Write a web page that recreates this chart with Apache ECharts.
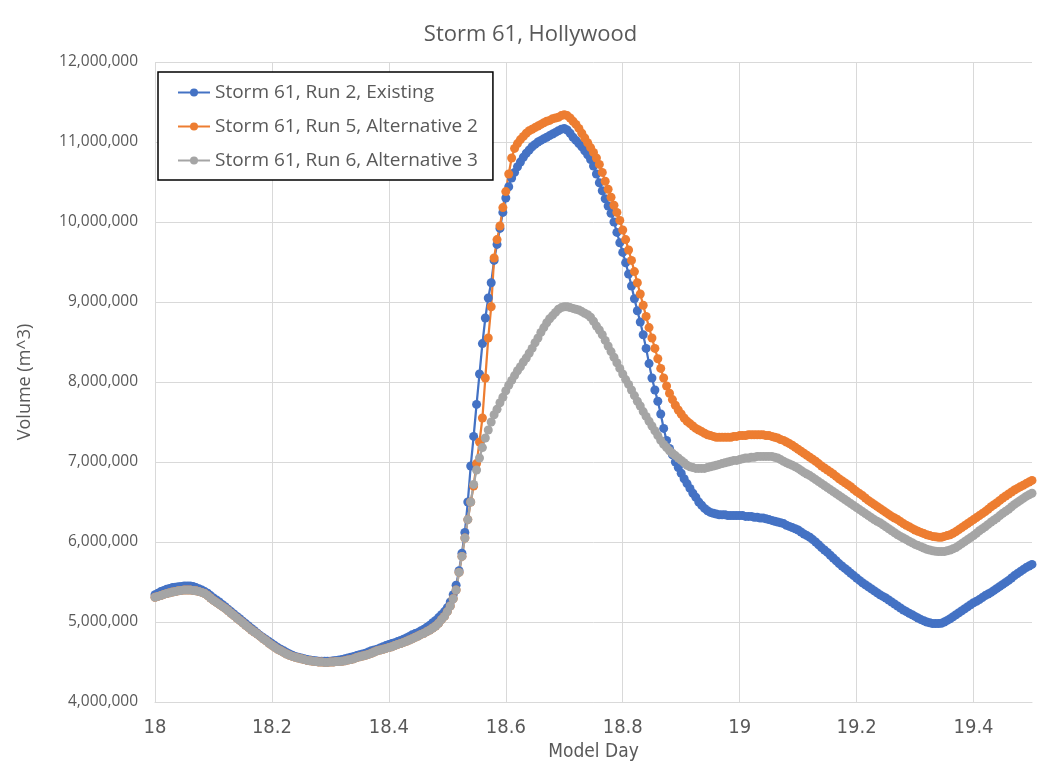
<!DOCTYPE html>
<html>
<head>
<meta charset="utf-8">
<script src="https://cdn.jsdelivr.net/npm/echarts@6/dist/echarts.min.js"></script>
<style>
html,body{margin:0;padding:0;background:#fff;}
#chart{width:1061px;height:771px;}
</style>
</head>
<body>
<div id="chart"></div>
<script>
// Model day sampling: first day and step between samples
const START_DAY = 18;
const STEP_DAY = 0.005;
const xTickMin = 18, xTickMax = 19.5, xTickStep = 0.2;
const yTickMin = 4000000, yTickMax = 12000000, yTickStep = 1000000;

const seriesNames = ["Storm 61, Run 2, Existing", "Storm 61, Run 5, Alternative 2", "Storm 61, Run 6, Alternative 3"];

// Volume (m^3) every 0.005 day from 18.000 to 19.500
const existing = [
5340000,5360000,5380000,5395000,5410000,5420000,5430000,5435000,5440000,5445000,
5450000,5450000,5450000,5445000,5430000,5415000,5400000,5380000,5360000,5330000,
5300000,5275000,5250000,5220000,5190000,5160000,5130000,5100000,5070000,5040000,
5010000,4980000,4950000,4920000,4890000,4860000,4830000,4805000,4780000,4755000,
4730000,4705000,4680000,4660000,4640000,4620000,4600000,4585000,4570000,4560000,
4550000,4540000,4530000,4525000,4520000,4515000,4510000,4510000,4510000,4510000,
4510000,4515000,4520000,4525000,4530000,4540000,4550000,4560000,4570000,4580000,
4590000,4600000,4610000,4625000,4640000,4650000,4660000,4675000,4690000,4705000,
4720000,4730000,4740000,4755000,4770000,4785000,4800000,4820000,4840000,4855000,
4870000,4890000,4910000,4935000,4960000,4990000,5020000,5055000,5090000,5130000,
5180000,5250000,5340000,5460000,5640000,5860000,6120000,6500000,6950000,7320000,
7720000,8100000,8480000,8800000,9050000,9240000,9520000,9720000,9920000,10120000,
10300000,10440000,10550000,10620000,10690000,10750000,10810000,10860000,10900000,10940000,
10970000,11000000,11020000,11040000,11060000,11080000,11100000,11120000,11140000,11160000,
11170000,11150000,11110000,11060000,11020000,10980000,10940000,10890000,10840000,10780000,
10700000,10600000,10490000,10390000,10290000,10200000,10110000,10000000,9870000,9740000,
9620000,9490000,9350000,9200000,9040000,8890000,8750000,8590000,8420000,8230000,
8050000,7900000,7760000,7600000,7420000,7270000,7170000,7090000,7000000,6930000,
6860000,6790000,6730000,6670000,6610000,6560000,6500000,6460000,6420000,6390000,
6370000,6360000,6350000,6340000,6340000,6340000,6330000,6330000,6330000,6330000,
6330000,6330000,6320000,6320000,6320000,6310000,6310000,6300000,6300000,6290000,
6280000,6270000,6260000,6250000,6240000,6230000,6210000,6195000,6180000,6165000,
6150000,6125000,6100000,6080000,6060000,6030000,6000000,5965000,5930000,5900000,
5870000,5835000,5800000,5765000,5730000,5700000,5670000,5640000,5610000,5580000,
5550000,5520000,5490000,5465000,5440000,5415000,5390000,5365000,5340000,5320000,
5300000,5275000,5250000,5225000,5200000,5175000,5150000,5130000,5110000,5090000,
5070000,5050000,5030000,5015000,5000000,4990000,4980000,4980000,4980000,4985000,
5000000,5020000,5040000,5065000,5090000,5115000,5140000,5165000,5190000,5215000,
5240000,5260000,5280000,5305000,5330000,5350000,5370000,5395000,5420000,5445000,
5470000,5495000,5520000,5550000,5580000,5605000,5630000,5655000,5680000,5700000,
5720000
];

const alternative2 = [
5310000,5320000,5330000,5345000,5355000,5365000,5375000,5380000,5390000,5395000,
5400000,5400000,5400000,5395000,5390000,5380000,5370000,5355000,5330000,5300000,
5270000,5245000,5220000,5195000,5170000,5140000,5110000,5080000,5050000,5020000,
4990000,4960000,4930000,4900000,4875000,4850000,4820000,4790000,4765000,4735000,
4710000,4685000,4660000,4640000,4620000,4600000,4585000,4570000,4560000,4550000,
4540000,4530000,4520000,4515000,4510000,4505000,4500000,4500000,4495000,4495000,
4500000,4500000,4505000,4505000,4510000,4515000,4525000,4530000,4540000,4555000,
4565000,4575000,4585000,4595000,4610000,4625000,4640000,4650000,4660000,4670000,
4680000,4690000,4705000,4720000,4730000,4745000,4760000,4775000,4790000,4810000,
4825000,4845000,4860000,4880000,4900000,4925000,4950000,4985000,5030000,5070000,
5130000,5200000,5290000,5400000,5620000,5820000,6050000,6280000,6500000,6700000,
6980000,7250000,7550000,8050000,8550000,8940000,9550000,9780000,9950000,10180000,
10380000,10600000,10800000,10920000,10980000,11030000,11070000,11110000,11140000,11160000,
11180000,11200000,11220000,11240000,11260000,11270000,11290000,11300000,11310000,11330000,
11340000,11330000,11300000,11260000,11220000,11170000,11110000,11050000,10990000,10930000,
10870000,10800000,10720000,10620000,10510000,10410000,10310000,10210000,10120000,10020000,
9900000,9780000,9650000,9520000,9380000,9240000,9100000,8960000,8820000,8680000,
8550000,8420000,8290000,8170000,8050000,7950000,7860000,7780000,7710000,7650000,
7600000,7550000,7510000,7480000,7450000,7420000,7400000,7380000,7360000,7340000,
7330000,7320000,7310000,7310000,7310000,7310000,7310000,7310000,7320000,7320000,
7330000,7330000,7330000,7340000,7340000,7340000,7340000,7340000,7340000,7330000,
7330000,7320000,7310000,7300000,7280000,7270000,7250000,7230000,7210000,7185000,
7160000,7135000,7110000,7085000,7060000,7035000,7010000,6980000,6950000,6925000,
6900000,6875000,6850000,6820000,6790000,6765000,6740000,6715000,6690000,6660000,
6630000,6605000,6580000,6550000,6520000,6495000,6470000,6445000,6420000,6395000,
6370000,6345000,6320000,6300000,6280000,6255000,6230000,6210000,6190000,6170000,
6150000,6135000,6120000,6105000,6090000,6080000,6070000,6065000,6060000,6060000,
6070000,6080000,6090000,6110000,6130000,6155000,6180000,6205000,6230000,6255000,
6280000,6305000,6330000,6355000,6380000,6410000,6440000,6465000,6490000,6520000,
6550000,6575000,6600000,6625000,6650000,6670000,6690000,6710000,6730000,6750000,
6770000
];

const alternative3 = [
5310000,5320000,5330000,5345000,5355000,5365000,5375000,5380000,5390000,5395000,
5400000,5400000,5400000,5395000,5390000,5380000,5370000,5355000,5330000,5300000,
5270000,5245000,5220000,5195000,5170000,5140000,5110000,5080000,5050000,5020000,
4990000,4960000,4930000,4900000,4875000,4850000,4820000,4790000,4765000,4735000,
4710000,4685000,4660000,4640000,4620000,4600000,4585000,4570000,4560000,4550000,
4540000,4530000,4520000,4515000,4510000,4505000,4500000,4500000,4495000,4495000,
4500000,4500000,4505000,4505000,4510000,4515000,4525000,4530000,4540000,4555000,
4565000,4575000,4585000,4595000,4610000,4625000,4640000,4650000,4660000,4670000,
4680000,4690000,4705000,4720000,4730000,4745000,4760000,4775000,4790000,4810000,
4825000,4845000,4860000,4880000,4900000,4925000,4950000,4985000,5030000,5070000,
5130000,5200000,5290000,5400000,5620000,5820000,6050000,6280000,6500000,6720000,
6900000,7050000,7180000,7300000,7400000,7500000,7590000,7660000,7740000,7810000,
7890000,7960000,8020000,8080000,8140000,8190000,8250000,8300000,8360000,8420000,
8490000,8550000,8620000,8680000,8740000,8790000,8830000,8870000,8910000,8930000,
8940000,8940000,8930000,8920000,8910000,8900000,8880000,8860000,8840000,8810000,
8760000,8700000,8650000,8590000,8520000,8450000,8380000,8310000,8240000,8170000,
8100000,8030000,7970000,7900000,7830000,7760000,7700000,7630000,7570000,7510000,
7450000,7390000,7330000,7270000,7220000,7180000,7140000,7110000,7080000,7050000,
7020000,6990000,6960000,6940000,6930000,6920000,6920000,6920000,6920000,6930000,
6940000,6950000,6960000,6970000,6980000,6990000,7000000,7010000,7020000,7020000,
7030000,7040000,7050000,7050000,7060000,7060000,7070000,7070000,7070000,7070000,
7070000,7070000,7060000,7050000,7030000,7010000,6990000,6975000,6960000,6940000,
6920000,6895000,6870000,6850000,6830000,6805000,6780000,6755000,6730000,6705000,
6680000,6655000,6630000,6605000,6580000,6555000,6530000,6505000,6480000,6455000,
6430000,6405000,6380000,6355000,6330000,6305000,6280000,6260000,6240000,6215000,
6190000,6165000,6140000,6115000,6090000,6070000,6050000,6030000,6010000,5990000,
5970000,5955000,5940000,5925000,5910000,5900000,5890000,5885000,5880000,5880000,
5880000,5890000,5900000,5915000,5930000,5955000,5980000,6005000,6030000,6055000,
6080000,6110000,6140000,6165000,6190000,6220000,6250000,6275000,6300000,6330000,
6360000,6385000,6410000,6440000,6470000,6495000,6520000,6545000,6570000,6590000,
6610000
];

const colors = ["#4472C4", "#ED7D31", "#A5A5A5"];

function pairs(values) {
  return values.map((v, i) => [+(START_DAY + i * STEP_DAY).toFixed(3), v]);
}

const chart = echarts.init(document.getElementById('chart'), null, {renderer: 'canvas'});
const textColor = '#595959';
const gridColor = '#D9D9D9';

const option = {
  animation: false,
  backgroundColor: '#ffffff',
  color: colors,
  title: {
    text: 'Storm 61, Hollywood',
    left: 'center',
    top: 19,
    textStyle: {fontFamily: 'Open Sans', fontSize: 22, fontWeight: 'normal', color: textColor}
  },
  legend: {
    orient: 'vertical',
    left: 158,
    top: 72,
    padding: [11, 15, 10, 19],
    itemGap: 15,
    itemWidth: 32,
    itemHeight: 10,
    backgroundColor: '#ffffff',
    borderColor: '#000000',
    borderWidth: 1.5,
    textStyle: {fontFamily: 'Open Sans', fontSize: 19, color: textColor},
    data: seriesNames
  },
  grid: {left: 155, right: 29, top: 62, bottom: 69, containLabel: false},
  xAxis: {
    type: 'value',
    min: xTickMin, max: xTickMax, interval: xTickStep,
    name: 'Model Day',
    nameLocation: 'middle',
    nameGap: 37,
    nameTextStyle: {fontFamily: "'Liberation Sans Narrow', 'DejaVu Sans Condensed', 'Open Sans'", fontSize: 19, color: textColor},
    axisLine: {show: true, lineStyle: {color: gridColor, width: 1}},
    axisTick: {show: false},
    axisLabel: {
      showMaxLabel: false,
      margin: 16,
      fontFamily: "'Liberation Sans Narrow', 'DejaVu Sans Condensed', 'Open Sans'",
      fontSize: 20,
      color: textColor,
      formatter: v => String(+v.toFixed(1))
    },
    splitLine: {show: true, showMaxLine: false, lineStyle: {color: gridColor, width: 1}}
  },
  yAxis: {
    type: 'value',
    min: yTickMin, max: yTickMax, interval: yTickStep,
    name: 'Volume (m^3)',
    nameLocation: 'middle',
    nameRotate: 90,
    nameGap: 121,
    nameTextStyle: {fontFamily: 'Open Sans', fontSize: 18, color: textColor},
    axisLine: {show: false},
    axisTick: {show: false},
    axisLabel: {
      margin: 17,
      fontFamily: 'Open Sans',
      fontSize: 15.5,
      color: textColor,
      formatter: v => v.toLocaleString('en-US')
    },
    splitLine: {show: true, lineStyle: {color: gridColor, width: 1}}
  },
  series: [existing, alternative2, alternative3].map((vals, k) => ({
    name: seriesNames[k],
    type: 'line',
    data: pairs(vals),
    symbol: 'circle',
    symbolSize: 9,
    showSymbol: true,
    showAllSymbol: true,
    lineStyle: {width: 2.25, color: colors[k]},
    itemStyle: {color: colors[k]},
    emphasis: {disabled: true}
  }))
};
chart.setOption(option);
</script>
</body>
</html>
